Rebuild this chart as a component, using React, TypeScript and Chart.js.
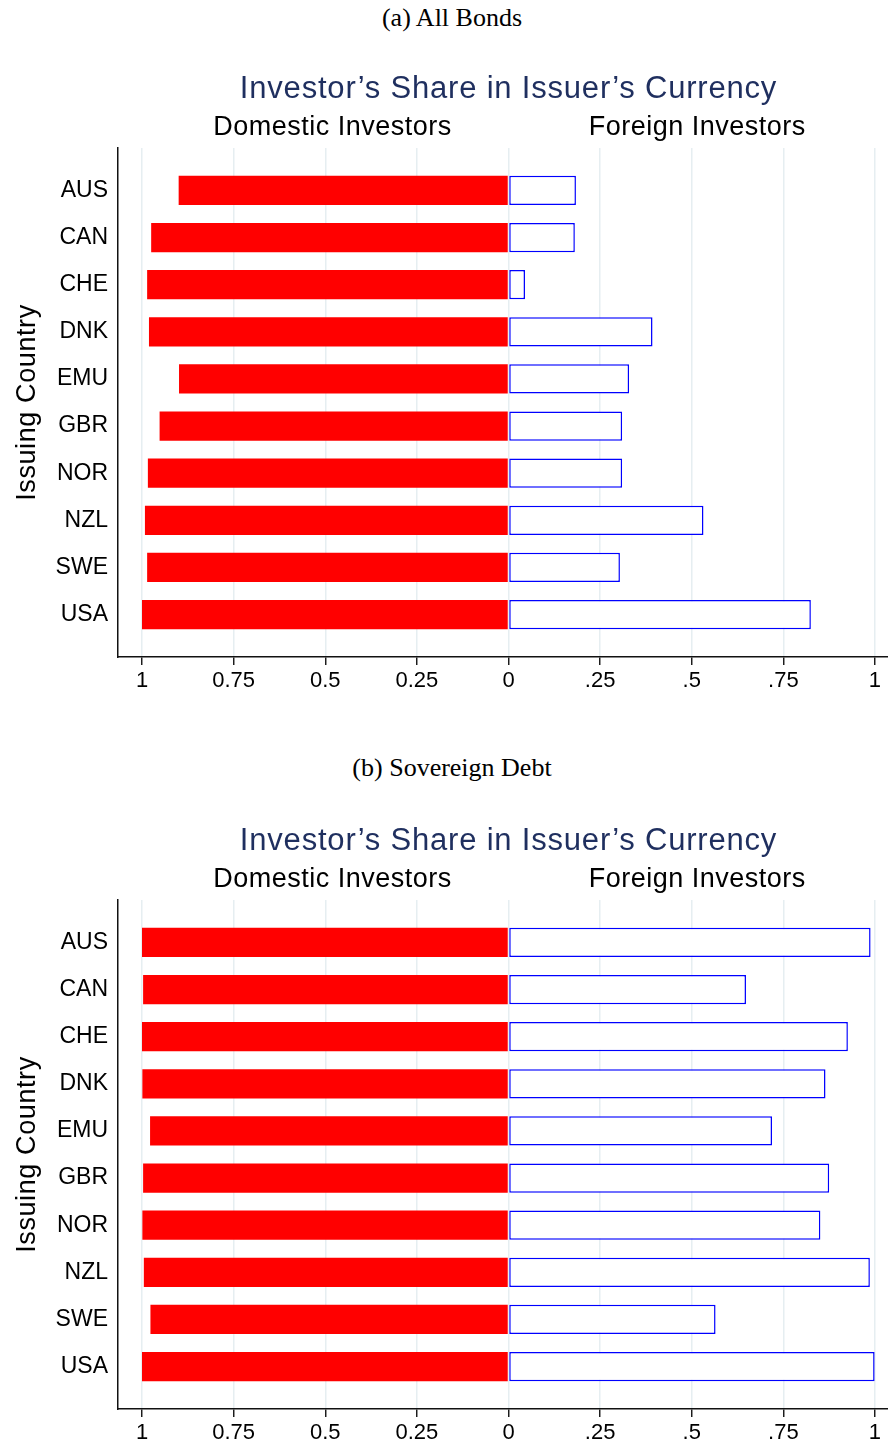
import React, { useEffect, useRef } from "react";
import { Chart, registerables } from "chart.js";

Chart.register(...registerables);

// ---- Data ----
const categories = ["AUS", "CAN", "CHE", "DNK", "EMU", "GBR", "NOR", "NZL", "SWE", "USA"];

const allBondsDomestic = [0.9, 0.975, 0.986, 0.981, 0.899, 0.952, 0.984, 0.992, 0.986, 1.0];
const allBondsForeign = [0.184, 0.181, 0.045, 0.393, 0.329, 0.31, 0.31, 0.532, 0.304, 0.825];

const sovDomestic = [1.0, 0.997, 1.0, 0.999, 0.978, 0.997, 0.999, 0.995, 0.977, 1.0];
const sovForeign = [0.988, 0.648, 0.926, 0.865, 0.719, 0.875, 0.851, 0.986, 0.565, 0.999];

const xTickValues = [-1, -0.75, -0.5, -0.25, 0, 0.25, 0.5, 0.75, 1];
const xTickLabels = ["1", "0.75", "0.5", "0.25", "0", ".25", ".5", ".75", "1"];

const chartTitle = "Investor\u2019s Share in Issuer\u2019s Currency";
const domesticLabel = "Domestic Investors";
const foreignLabel = "Foreign Investors";
const yAxisTitle = "Issuing Country";

const FONT = "'Liberation Sans', Arial, Helvetica, sans-serif";
const TITLE_COLOR = "#1f2f5f";

const textPlugin = {
  id: "panelTexts",
  afterDraw(chart: any) {
    const { ctx } = chart;
    const x = chart.scales.x;
    const area = chart.chartArea;
    ctx.save();
    ctx.textBaseline = "alphabetic";
    ctx.textAlign = "center";
    // main title
    ctx.fillStyle = TITLE_COLOR;
    ctx.font = `31px ${FONT}`;
    (ctx as any).letterSpacing = "0.8px";
    ctx.fillText(chartTitle, x.getPixelForValue(0), 26);
    // sub headings
    ctx.fillStyle = "#000";
    ctx.font = `27px ${FONT}`;
    (ctx as any).letterSpacing = "0.5px";
    ctx.fillText(domesticLabel, x.getPixelForValue(-0.48), 63);
    ctx.fillText(foreignLabel, x.getPixelForValue(0.515), 63);
    // y axis title
    ctx.font = `27px ${FONT}`;
    (ctx as any).letterSpacing = "0.6px";
    ctx.translate(35, (area.top + area.bottom) / 2);
    ctx.rotate(-Math.PI / 2);
    ctx.fillText(yAxisTitle, 0, 0);
    ctx.restore();
  },
};

function Panel({ domestic, foreign, top }: { domestic: number[]; foreign: number[]; top: number }) {
  const ref = useRef<HTMLCanvasElement | null>(null);
  useEffect(() => {
    if (!ref.current) return;
    const chart = new Chart(ref.current, {
      type: "bar",
      data: {
        datasets: [
          {
            label: "Domestic",
            data: categories.map((_, i) => ({ x: -domestic[i], y: i })),
            backgroundColor: "#ff0000",
            borderWidth: 0,
            categoryPercentage: 1,
            barPercentage: 0.622,
          },
          {
            label: "Foreign",
            data: categories.map((_, i) => ({ x: foreign[i], y: i })),
            backgroundColor: "#ffffff",
            borderColor: "#0000ff",
            borderWidth: 1.5,
            borderSkipped: false,
            categoryPercentage: 1,
            barPercentage: 0.622,
          },
        ],
      },
      options: {
        indexAxis: "y",
        animation: false,
        responsive: false,
        devicePixelRatio: 1,
        layout: { padding: { top: 76, left: 0, right: 0, bottom: 0 } },
        plugins: { legend: { display: false }, tooltip: { enabled: false }, title: { display: false } },
        scales: {
          x: {
            type: "linear",
            stacked: true,
            offset: false,
            min: -1.0655,
            max: 1.0355,
            afterBuildTicks: (axis: any) => {
              axis.ticks = xTickValues.map((v) => ({ value: v }));
            },
            afterFit: (scale: any) => {
              scale.height = 37;
            },
            ticks: {
              autoSkip: false,
              maxRotation: 0,
              padding: 3,
              color: "#000",
              font: { family: FONT, size: 22 },
              callback: (_v: any, i: number) => xTickLabels[i],
            },
            grid: {
              display: true,
              offset: false,
              color: "#e6eef1",
              lineWidth: 1.5,
              drawTicks: true,
              tickLength: 8,
              tickColor: "#111",
              tickWidth: 1.4,
            },
            border: { display: true, color: "#111", width: 1.5 },
          },
          y: {
            type: "linear",
            stacked: true,
            reverse: true,
            offset: false,
            min: -0.9,
            max: 9.9,
            afterBuildTicks: (axis: any) => {
              axis.ticks = categories.map((_, i) => ({ value: i }));
            },
            afterFit: (scale: any) => {
              scale.width = 118;
            },
            ticks: {
              autoSkip: false,
              padding: 10,
              color: "#000",
              font: { family: FONT, size: 23 },
              callback: (_v: any, i: number) => categories[i],
            },
            grid: { display: true, offset: false, color: "rgba(0,0,0,0)", drawTicks: false },
            border: { display: true, color: "#111", width: 1.5 },
          },
        },
      },
      plugins: [textPlugin],
    } as any);
    return () => chart.destroy();
  }, [domestic, foreign]);
  return (
    <canvas
      ref={ref}
      width={888}
      height={622}
      style={{ position: "absolute", left: 0, top, width: 888, height: 622 }}
    />
  );
}

const captionStyle: React.CSSProperties = {
  position: "absolute",
  left: 16,
  width: 872,
  textAlign: "center",
  fontFamily: "'Liberation Serif', 'Times New Roman', serif",
  fontSize: 26,
  lineHeight: "30px",
  color: "#000",
  whiteSpace: "nowrap",
};

export default function App() {
  return (
    <div
      style={{
        position: "absolute",
        left: 0,
        top: 0,
        width: 888,
        height: 1446,
        overflow: "hidden",
        background: "#fff",
      }}
    >
      <div style={{ ...captionStyle, top: 3 }}>(a) All Bonds</div>
      <Panel domestic={allBondsDomestic} foreign={allBondsForeign} top={72} />
      <div style={{ ...captionStyle, top: 753 }}>(b) Sovereign Debt</div>
      <Panel domestic={sovDomestic} foreign={sovForeign} top={824} />
    </div>
  );
}
